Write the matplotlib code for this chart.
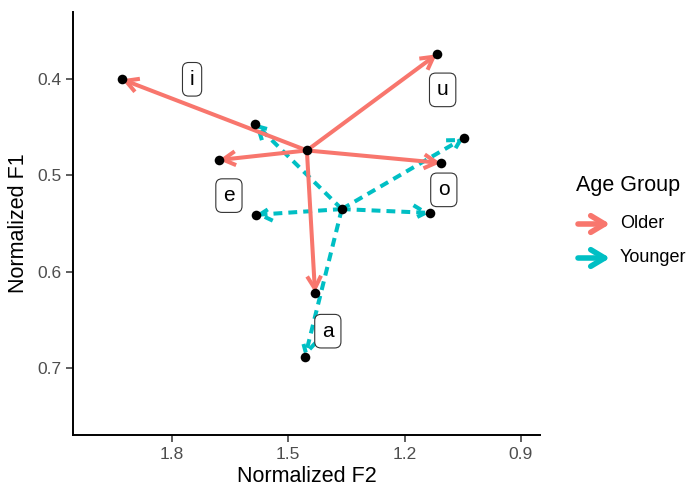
import matplotlib
matplotlib.use("Agg")
import matplotlib.pyplot as plt
from matplotlib.patches import FancyArrowPatch

plt.rcParams['font.family'] = ['Liberation Sans', 'DejaVu Sans']

# vowel means (normalized formants)
vowels = ['i', 'e', 'a', 'o', 'u']
older_f2 = [1.929, 1.679, 1.431, 1.107, 1.117]
older_f1 = [0.400, 0.484, 0.622, 0.487, 0.374]
younger_f2 = [1.586, 1.584, 1.457, 1.135, 1.047]
younger_f1 = [0.446, 0.541, 0.689, 0.539, 0.461]

# centroids of each group
older_center = (1.452, 0.474)
younger_center = (1.362, 0.535)

# label positions
label_f2 = [1.748, 1.653, 1.398, 1.099, 1.102]
label_f1 = [0.400, 0.521, 0.662, 0.515, 0.411]

groups = ['Older', 'Younger']
colors = {'Older': '#F8766D', 'Younger': '#00BFC4'}
styles = {'Older': '-', 'Younger': (0, (2.2, 1.5))}

fig = plt.figure(figsize=(6.88, 4.87), dpi=100)
ax = fig.add_axes([73 / 688, 52 / 487, 467 / 688, 423 / 487])

data = {'Older': (older_center, older_f2, older_f1),
        'Younger': (younger_center, younger_f2, younger_f1)}

for g in ['Younger', 'Older']:
    center, f2s, f1s = data[g]
    for x, y in zip(f2s, f1s):
        arr = FancyArrowPatch(center, (x, y), arrowstyle='->,head_length=0.9,head_width=0.5',
                              mutation_scale=10, color=colors[g], lw=2.9,
                              linestyle=styles[g], shrinkA=0, shrinkB=0,
                              capstyle='butt', joinstyle='miter', zorder=2)
        ax.add_patch(arr)

all_f2 = older_f2 + younger_f2 + [older_center[0], younger_center[0]]
all_f1 = older_f1 + younger_f1 + [older_center[1], younger_center[1]]
ax.scatter(all_f2, all_f1, s=48, color='black', zorder=4, linewidths=0)

for v, x, y in zip(vowels, label_f2, label_f1):
    ax.text(x, y, v, fontsize=15, ha='center', va='center', color='black', zorder=5,
            bbox=dict(boxstyle='round,pad=0.35,rounding_size=0.3', fc='white', ec='#333333', lw=0.8))

ax.set_xlim(2.055, 0.851)
ax.set_ylim(0.770, 0.330)
ax.set_xticks([1.8, 1.5, 1.2, 0.9])
ax.set_yticks([0.4, 0.5, 0.6, 0.7])
ax.set_xticklabels(['1.8', '1.5', '1.2', '0.9'])
ax.set_yticklabels(['0.4', '0.5', '0.6', '0.7'])
ax.tick_params(labelsize=12.5, labelcolor='#4D4D4D', length=5, width=1.1, color='#333333')
ax.spines['top'].set_visible(False)
ax.spines['right'].set_visible(False)
for s in ['left', 'bottom']:
    ax.spines[s].set_linewidth(1.4)
ax.set_xlabel('Normalized F2', fontsize=15.5, labelpad=3)
ax.set_ylabel('Normalized F1', fontsize=15.5, labelpad=6)

# title, almost fully cut off by the top edge as in the original
fig.text(0.44, 1.012, 'Vowel space comparison by age group', fontsize=16,
         ha='center', va='baseline')

# legend drawn by hand
fig.text(576 / 688, 1 - 186 / 487, 'Age Group', fontsize=15.5, ha='left', va='center')
for i, g in enumerate(groups):
    yy = 1 - (224 + 34 * i) / 487
    fig.patches.append(FancyArrowPatch((578 / 688, yy), (610 / 688, yy),
                                       transform=fig.transFigure,
                                       arrowstyle='->,head_length=1.0,head_width=0.6',
                                       mutation_scale=10, color=colors[g], lw=4,
                                       shrinkA=0, shrinkB=0))
    fig.text(620 / 688, yy, g, fontsize=13, ha='left', va='center')

fig.savefig('out.png', dpi=100)
